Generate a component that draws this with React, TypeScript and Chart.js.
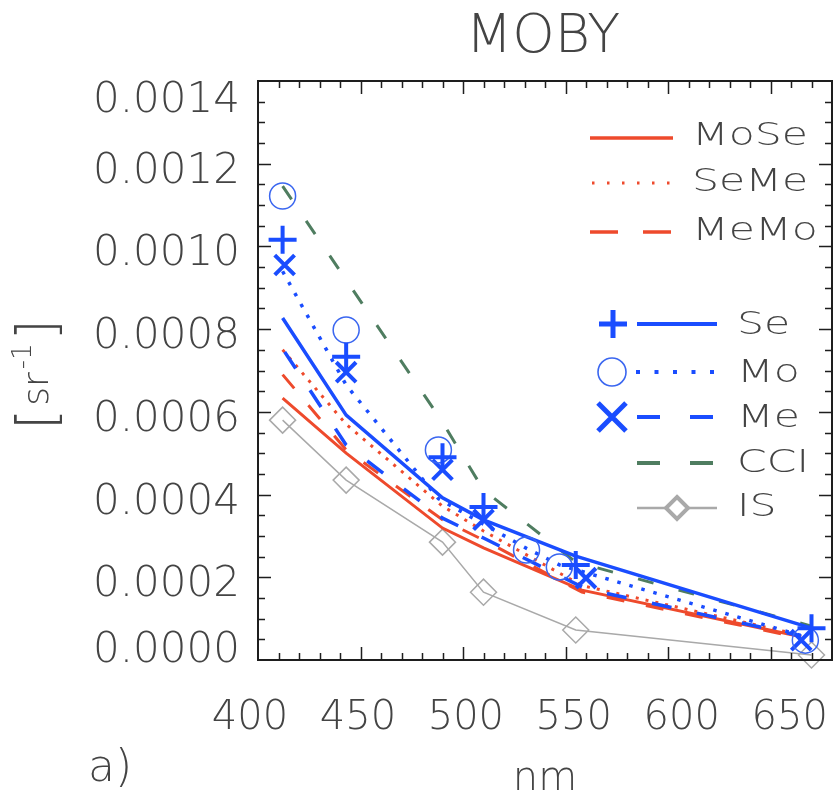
import React, { useEffect, useRef } from "react";
import { Chart, registerables } from "chart.js";

Chart.register(...registerables);

// ---- data (wavelengths in nm, values in sr^-1) ----
const seawifsNm = [412, 443, 490, 510, 555, 670];
const modisNm = [412, 443, 488, 531, 547, 667];
const merisNm = [413, 443, 490, 510, 560, 665];
const cciNm = [412, 443, 490, 510, 555, 670];
const isNm = [412, 443, 490, 510, 555, 670];
const pairNm = [412, 443, 490, 510, 558, 665];

const moSe = [0.000633, 0.0005, 0.000319, 0.000271, 0.000169, 0.000056];
const seMe = [0.00075, 0.00057, 0.000372, 0.000312, 0.00018, 0.00006];
const meMo = [0.00069, 0.000508, 0.000339, 0.00029, 0.000164, 0.000053];

const seLine = [0.000827, 0.000592, 0.000392, 0.000339, 0.000251, 0.000077];
const moLine = [0.00094, 0.000665, 0.00039, 0.00027, 0.00023, 0.000056];
const meLine = [0.000745, 0.00052, 0.000343, 0.000295, 0.000172, 0.000058];

const seMarks = [0.001016, 0.000733, 0.00049, 0.00037, 0.00023, 0.000077];
const moMarks = [0.001122, 0.000798, 0.000508, 0.000266, 0.000225, 0.000048];
const meMarks = [0.000955, 0.000696, 0.00046, 0.000339, 0.000198, 0.000048];

const cciVals = [0.001146, 0.000919, 0.000575, 0.000411, 0.000237, 0.000082];
const isVals = [0.00058, 0.000435, 0.000285, 0.000164, 0.0000725, 0.000012];

const xTickLabels = [400, 450, 500, 550, 600, 650];
const yTickValues = [0, 0.0002, 0.0004, 0.0006, 0.0008, 0.001, 0.0012, 0.0014];
const X_MIN = 400;
const X_MAX = 680;
const Y_MIN = 0;
const Y_MAX = 0.0014;

const titleText = "MOBY";
const xTitle = "nm";
const panelTag = "a)";

// ---- styles ----
const RED = "#ee4a2c";
const BLUE = "#1a4dff";
const BLUE_LIGHT = "#3a66f0";
const GREEN = "#4f7d60";
const GRAY = "#a9a9a9";
const TXT = "#444444";
const FF = "'DejaVu Sans', sans-serif";
const FW = "200";

const pts = (xs: number[], ys: number[]) => xs.map((x, i) => ({ x, y: ys[i] }));

function text(ctx: CanvasRenderingContext2D, s: string, x: number, y: number, size: number, align: CanvasTextAlign = "left", sx = 1) {
  ctx.save();
  ctx.font = `${FW} ${size}px ${FF}`;
  ctx.fillStyle = TXT;
  ctx.textBaseline = "alphabetic";
  ctx.textAlign = align;
  ctx.translate(x, y);
  ctx.scale(sx, 1);
  ctx.fillText(s, 0, 0);
  ctx.restore();
}

function seg(ctx: CanvasRenderingContext2D, x1: number, x2: number, y: number, color: string, w: number, dash: number[] = [], cap: CanvasLineCap = "butt") {
  ctx.save();
  ctx.strokeStyle = color;
  ctx.lineWidth = w;
  ctx.lineCap = cap;
  ctx.setLineDash(dash);
  ctx.beginPath();
  ctx.moveTo(x1, y);
  ctx.lineTo(x2, y);
  ctx.stroke();
  ctx.restore();
}

const decor = {
  id: "decor",
  afterDraw(chart: any) {
    const ctx: CanvasRenderingContext2D = chart.ctx;
    const { left, right, top, bottom } = chart.chartArea;
    const xs = chart.scales.x;
    const ys = chart.scales.y;
    ctx.save();

    // frame
    ctx.strokeStyle = "#1e1e1e";
    ctx.lineWidth = 2;
    ctx.strokeRect(left, top, right - left, bottom - top);

    // ticks (inside)
    ctx.lineWidth = 1.5;
    ctx.beginPath();
    for (let v = X_MIN + 10; v < X_MAX; v += 10) {
      const major = v % 50 === 0;
      const len = major ? 13 : 7;
      const px = Math.round(xs.getPixelForValue(v)) + 0.5;
      ctx.moveTo(px, bottom);
      ctx.lineTo(px, bottom - len);
      ctx.moveTo(px, top);
      ctx.lineTo(px, top + len);
    }
    for (let i = 1; i < 28; i++) {
      const v = i * 0.00005;
      const major = i % 4 === 0;
      const len = major ? 13 : 7;
      const py = Math.round(ys.getPixelForValue(v)) + 0.5;
      ctx.moveTo(left, py);
      ctx.lineTo(left + len, py);
      ctx.moveTo(right, py);
      ctx.lineTo(right - len, py);
    }
    ctx.stroke();

    // y tick labels
    for (const v of yTickValues) {
      const py = ys.getPixelForValue(v);
      const cy = Math.min(Math.max(py + 4, 97), 647);
      text(ctx, v.toFixed(4), 240, cy + 15, 42, "right");
    }
    // x tick labels (spread slightly wider than the ticks, as in the source figure)
    for (const v of xTickLabels) {
      const px = left + (xs.getPixelForValue(v) - left) * 1.053 - 8;
      text(ctx, String(v), px, 729, 40, "center");
    }

    // titles
    text(ctx, titleText, 543, 52, 54, "center");
    text(ctx, xTitle, 545, 790, 40, "center");
    text(ctx, panelTag, 88, 781, 44, "left");

    // y-axis title  [sr^-1]
    const parts = [
      { t: "[", size: 54, base: 55 },
      { t: "sr", size: 36, base: 48 },
      { t: "-1", size: 26, base: 31 },
      { t: "]", size: 54, base: 55 },
    ];
    let total = 0;
    const widths = parts.map((p) => {
      ctx.font = `${FW} ${p.size}px ${FF}`;
      const w = ctx.measureText(p.t).width + 3;
      total += w;
      return w;
    });
    let yc = 373 + total / 2;
    parts.forEach((p, i) => {
      ctx.save();
      ctx.font = `${FW} ${p.size}px ${FF}`;
      ctx.fillStyle = TXT;
      ctx.textAlign = "left";
      ctx.textBaseline = "alphabetic";
      ctx.translate(p.base, yc);
      ctx.rotate(-Math.PI / 2);
      ctx.fillText(p.t, 0, 0);
      ctx.restore();
      yc -= widths[i];
    });

    // legend: pair products
    seg(ctx, 590, 673, 138, RED, 3.5);
    seg(ctx, 592, 673, 183, RED, 3, [2.5, 12.5]);
    seg(ctx, 590, 673, 232, RED, 3.5, [28, 25]);
    text(ctx, "MoSe", 692, 145, 32, "left", 1.33);
    text(ctx, "SeMe", 692, 191, 32, "left", 1.33);
    text(ctx, "MeMo", 692, 240, 32, "left", 1.33);

    // legend: sensors
    // Se
    ctx.save();
    ctx.strokeStyle = BLUE;
    ctx.lineWidth = 5;
    ctx.beginPath();
    ctx.moveTo(599, 324); ctx.lineTo(627, 324);
    ctx.moveTo(613, 310); ctx.lineTo(613, 338);
    ctx.stroke();
    ctx.restore();
    seg(ctx, 637, 717, 324, BLUE, 4);
    text(ctx, "Se", 737, 334, 32, "left", 1.33);
    // Mo
    ctx.save();
    ctx.strokeStyle = BLUE_LIGHT;
    ctx.lineWidth = 1.6;
    ctx.beginPath();
    ctx.arc(612, 372, 14, 0, Math.PI * 2);
    ctx.stroke();
    ctx.restore();
    seg(ctx, 636, 717, 372, BLUE, 4, [4, 14.5]);
    text(ctx, "Mo", 737, 382, 32, "left", 1.33);
    // Me
    ctx.save();
    ctx.strokeStyle = BLUE;
    ctx.lineWidth = 5;
    ctx.beginPath();
    ctx.moveTo(598, 403); ctx.lineTo(626, 431);
    ctx.moveTo(626, 403); ctx.lineTo(598, 431);
    ctx.stroke();
    ctx.restore();
    seg(ctx, 637, 717, 417, BLUE, 4, [23, 30]);
    text(ctx, "Me", 737, 427, 32, "left", 1.33);
    // CCI
    seg(ctx, 637, 717, 463, GREEN, 4, [23, 30]);
    text(ctx, "CCI", 737, 472, 32, "left", 1.33);
    // IS
    seg(ctx, 637, 717, 508, GRAY, 2.5);
    ctx.save();
    ctx.strokeStyle = GRAY;
    ctx.fillStyle = "#ffffff";
    ctx.lineWidth = 4;
    ctx.beginPath();
    ctx.moveTo(677, 497); ctx.lineTo(688, 508); ctx.lineTo(677, 519); ctx.lineTo(666, 508); ctx.closePath();
    ctx.fill();
    ctx.stroke();
    ctx.restore();
    text(ctx, "IS", 737, 516, 32, "left", 1.33);

    ctx.restore();
  },
};

export default function App() {
  const ref = useRef<HTMLCanvasElement | null>(null);

  useEffect(() => {
    if (!ref.current) return;
    const line = (label: string, xs: number[], ys: number[], color: string, width: number, dash: number[] = [], order = 5) => ({
      label,
      data: pts(xs, ys),
      borderColor: color,
      backgroundColor: color,
      borderWidth: width,
      borderDash: dash,
      pointRadius: 0,
      tension: 0,
      fill: false,
      order,
    });
    const marks = (label: string, xs: number[], ys: number[], style: string, color: string, radius: number, width: number) => ({
      label,
      data: pts(xs, ys),
      showLine: false,
      pointStyle: style,
      pointRadius: radius,
      pointBorderWidth: width,
      pointBorderColor: color,
      pointBackgroundColor: "rgba(0,0,0,0)",
      borderColor: color,
      backgroundColor: "rgba(0,0,0,0)",
      clip: false,
      order: 0,
    });

    const chart = new Chart(ref.current, {
      type: "line",
      data: {
        datasets: [
          marks("Se markers", seawifsNm, seMarks, "cross", BLUE, 14, 4),
          marks("Mo markers", modisNm, moMarks, "circle", BLUE_LIGHT, 13, 1.5),
          marks("Me markers", merisNm, meMarks, "crossRot", BLUE, 14, 4),
          line("Se", seawifsNm, seLine, BLUE, 3.5, [], 2),
          line("Mo", modisNm, moLine, BLUE, 3.5, [3.5, 9], 2),
          line("Me", merisNm, meLine, BLUE, 3.5, [20, 26], 2),
          line("MoSe", pairNm, moSe, RED, 3, [], 3),
          line("SeMe", pairNm, seMe, RED, 3, [3, 7], 3),
          line("MeMo", pairNm, meMo, RED, 3, [18, 22], 3),
          line("CCI", cciNm, cciVals, GREEN, 3, [16, 26], 4),
          {
            label: "IS",
            data: pts(isNm, isVals),
            borderColor: GRAY,
            borderWidth: 1.5,
            pointStyle: "rectRot",
            pointRadius: 13,
            pointBorderWidth: 1.5,
            pointBorderColor: GRAY,
            pointBackgroundColor: "rgba(255,255,255,0)",
            tension: 0,
            fill: false,
            clip: false,
            order: 6,
          },
        ] as any,
      },
      options: {
        responsive: false,
        devicePixelRatio: 1,
        animation: false,
        layout: { autoPadding: false, padding: { left: 0, right: 2, top: 81, bottom: 0 } },
        plugins: {
          legend: { display: false },
          tooltip: { enabled: false },
          title: { display: false },
        },
        scales: {
          x: {
            type: "linear",
            min: X_MIN,
            max: X_MAX,
            grid: { display: false, drawTicks: false },
            border: { display: false },
            ticks: { display: false },
            afterFit: (s: any) => {
              s.height = 140;
            },
          },
          y: {
            type: "linear",
            min: Y_MIN,
            max: Y_MAX,
            grid: { display: false, drawTicks: false },
            border: { display: false },
            ticks: { display: false },
            afterFit: (s: any) => {
              s.width = 258;
            },
          },
        },
      } as any,
      plugins: [decor],
    });
    return () => chart.destroy();
  }, []);

  return (
    <div style={{ position: "absolute", left: 0, top: 0, width: 834, height: 800, background: "#ffffff" }}>
      <canvas ref={ref} width={834} height={800} style={{ display: "block" }} />
    </div>
  );
}
